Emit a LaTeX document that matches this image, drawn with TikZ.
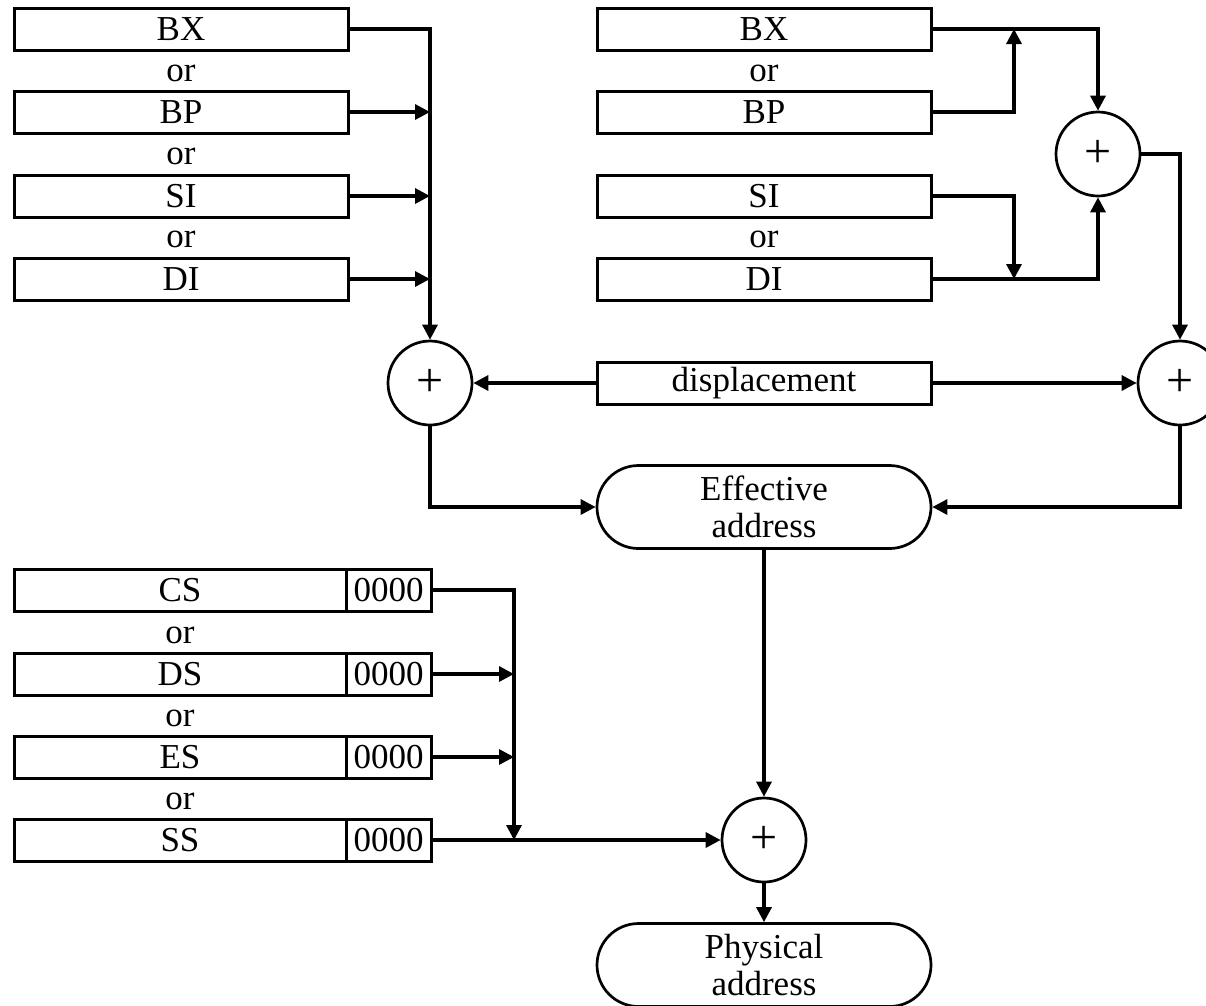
\documentclass[tikz,border=0pt]{standalone}
\usepackage{fontspec}
\setmainfont{Liberation Serif}
\usetikzlibrary{arrows.meta,shapes.misc,positioning,calc}

\begin{document}
\begin{tikzpicture}[
    x=1pt, y=-1pt,
    every node/.style={font=\fontsize{35}{37}\selectfont},
    reg/.style={rectangle, draw, line width=3pt, minimum width=334pt, minimum height=42pt, inner sep=0pt},
    zeros/.style={rectangle, draw, line width=3pt, minimum width=85pt, minimum height=42pt, inner sep=0pt},
    adder/.style={circle, draw, line width=2.7pt, minimum size=84pt, inner sep=0pt, font=\fontsize{48}{48}\selectfont},
    addr/.style={rounded rectangle, draw, line width=2.7pt, minimum width=334pt, minimum height=83pt, inner sep=0pt, align=center},
    orlbl/.style={inner sep=0pt},
    bus/.style={line width=3.2pt, -{Triangle[length=15pt,width=15pt]}}
]
    \useasboundingbox (0,0) rectangle (1206,1005);

    % Single register
    \node[reg] (bxA) at (181, 29) {BX};
    \node[orlbl] (orA1) at (181, 73) {or};
    \node[reg] (bpA) at (181, 112) {BP};
    \node[orlbl] (orA2) at (181, 156) {or};
    \node[reg] (siA) at (181, 196) {SI};
    \node[orlbl] (orA3) at (181, 239) {or};
    \node[reg] (diA) at (181, 279) {DI};

    % Base + index
    \node[reg] (bxB) at (764, 29) {BX};
    \node[orlbl] (orB1) at (764, 73) {or};
    \node[reg] (bpB) at (764, 112) {BP};
    \node[reg] (siB) at (764, 196) {SI};
    \node[orlbl] (orB2) at (764, 239) {or};
    \node[reg] (diB) at (764, 279) {DI};

    \node[adder] (sumB) at (1098, 154) {+};
    \coordinate (upB) at (1014, 29);
    \coordinate (downB) at (1014, 279);

    % Displacement and effective address
    \node[adder] (sumA) at (430, 383) {+};
    \node[adder] (sumC) at (1180, 383) {+};
    \node[reg] (disp) at (764, 383) {displacement};
    \node[addr] (eff) at (764, 507) {Effective\\address};

    % Segment registers
    \node[reg, minimum width=332pt] (cs) at (180, 590) {CS};
    \node[zeros, right=-3pt of cs] (cs0) {0000};
    \node[orlbl] (orS1) at (180, 635) {or};
    \node[reg, minimum width=332pt] (ds) at (180, 674) {DS};
    \node[zeros, right=-3pt of ds] (ds0) {0000};
    \node[orlbl] (orS2) at (180, 718) {or};
    \node[reg, minimum width=332pt] (es) at (180, 757) {ES};
    \node[zeros, right=-3pt of es] (es0) {0000};
    \node[orlbl] (orS3) at (180, 801) {or};
    \node[reg, minimum width=332pt] (ss) at (180, 840) {SS};
    \node[zeros, right=-3pt of ss] (ss0) {0000};
    \coordinate (segbus) at (514, 840);

    \node[adder] (sumP) at (764, 840) {+};
    \node[addr] (phys) at (764, 965) {Physical\\address};

    % Connections, left
    \draw[bus] (bxA.east) -| (sumA.north);
    \draw[bus] (bpA.east) -- (bpA.east -| sumA.north);
    \draw[bus] (siA.east) -- (siA.east -| sumA.north);
    \draw[bus] (diA.east) -- (diA.east -| sumA.north);

    % Connections, right
    \draw[bus] (bxB.east) -| (sumB.north);
    \draw[bus] (bpB.east) -| (upB);
    \draw[bus] (siB.east) -| (downB);
    \draw[bus] (diB.east) -| (sumB.south);
    \draw[bus] (sumB.east) -| (sumC.north);

    \draw[bus] (disp.west) -- (sumA.east);
    \draw[bus] (disp.east) -- (sumC.west);
    \draw[bus] (sumA.south) |- (eff.west);
    \draw[bus] (sumC.south) |- (eff.east);
    \draw[bus] (eff.south) -- (sumP.north);

    % Connections, segments
    \draw[bus] (cs0.east) -| (segbus);
    \draw[bus] (ds0.east) -- (ds0.east -| segbus);
    \draw[bus] (es0.east) -- (es0.east -| segbus);
    \draw[bus] (ss0.east) -- (sumP.west);
    \draw[bus] (sumP.south) -- (phys.north);
\end{tikzpicture}
\end{document}
